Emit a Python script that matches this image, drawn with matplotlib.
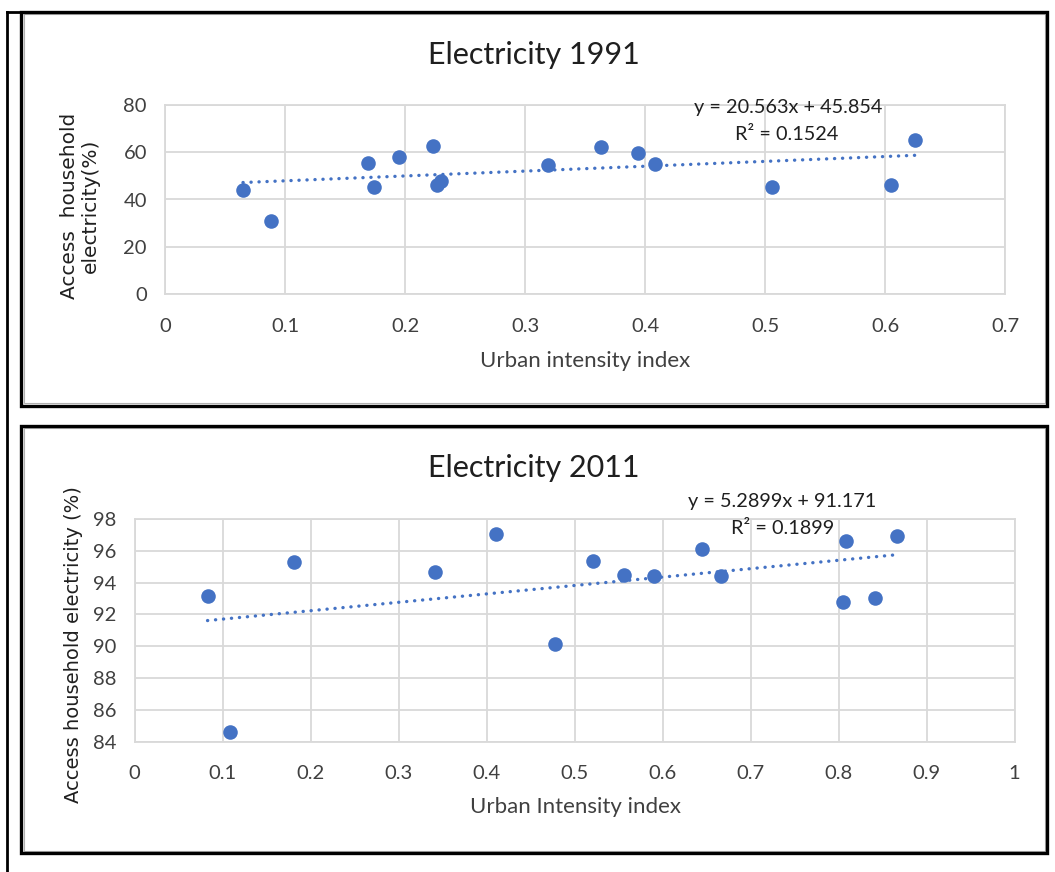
import matplotlib
matplotlib.use("Agg")
import matplotlib.pyplot as plt
import numpy as np
from matplotlib.patches import Rectangle
from matplotlib.lines import Line2D

# ---- data -------------------------------------------------------------
x1991 = [0.065, 0.088, 0.169, 0.174, 0.195, 0.223, 0.227, 0.230, 0.319,
         0.363, 0.394, 0.408, 0.506, 0.605, 0.625]
y1991 = [44.0, 30.9, 55.4, 45.3, 57.9, 62.6, 46.1, 48.0, 54.6,
         62.1, 59.6, 55.0, 45.2, 46.1, 65.0]
trend1991 = (20.563, 45.854)
r2_1991 = 0.1524

x2011 = [0.083, 0.109, 0.181, 0.342, 0.411, 0.478, 0.521, 0.556, 0.590,
         0.645, 0.667, 0.805, 0.808, 0.841, 0.867]
y2011 = [93.16, 84.6, 95.28, 94.69, 97.04, 90.12, 95.36, 94.5, 94.44,
         96.11, 94.42, 92.78, 96.64, 93.01, 96.95]
trend2011 = (5.2899, 91.171)
r2_2011 = 0.1899

xticks1991 = [0, 0.1, 0.2, 0.3, 0.4, 0.5, 0.6, 0.7]
xticklabels1991 = ["0", "0.1", "0.2", "0.3", "0.4", "0.5", "0.6", "0.7"]
yticks1991 = [0, 20, 40, 60, 80]

xticks2011 = [0, 0.1, 0.2, 0.3, 0.4, 0.5, 0.6, 0.7, 0.8, 0.9, 1.0]
xticklabels2011 = ["0", "0.1", "0.2", "0.3", "0.4", "0.5", "0.6", "0.7",
                   "0.8", "0.9", "1"]
yticks2011 = [84, 86, 88, 90, 92, 94, 96, 98]

# ---- style ------------------------------------------------------------
W, H = 1055, 872
BLUE = "#4472C4"
GRID = "#D9D9D9"
TICK = "#404040"
DARK = "#1F1F1F"
TXT = "Lato"
YLAB = "DejaVu Sans"

fig = plt.figure(figsize=(W / 100, H / 100), dpi=100)


def fx(px):
    return px / W


def fy(py):
    return 1 - py / H


def axes_px(left, top, right, bottom):
    return fig.add_axes([fx(left), fy(bottom), (right - left) / W, (bottom - top) / H])


def frame(left, top, right, bottom):
    fig.patches.append(Rectangle((fx(left + 2.5), fy(bottom - 2.5)),
                                 (right - left - 5) / W, (bottom - top - 5) / H,
                                 transform=fig.transFigure, fill=False,
                                 ec="#B0B0B0", lw=0.8, zorder=1))
    fig.patches.append(Rectangle((fx(left), fy(bottom)),
                                 (right - left) / W, (bottom - top) / H,
                                 transform=fig.transFigure, fill=False,
                                 ec="black", lw=2.4, zorder=2))


# outer page lines
fig.lines.append(Line2D([fx(7), fx(7)], [fy(12), fy(872)], transform=fig.transFigure,
                        color="black", lw=2.0))
fig.lines.append(Line2D([fx(7), fx(1047)], [fy(12), fy(12)], transform=fig.transFigure,
                        color="black", lw=2.0))
frame(21, 12, 1047, 406)
frame(21, 426, 1047, 853)


def style_axes(ax, xt, xtl, yt):
    ax.set_xticks(xt)
    ax.set_xticklabels(xtl)
    ax.set_yticks(yt)
    ax.set_xlim(xt[0], xt[-1])
    ax.set_ylim(yt[0], yt[-1])
    ax.grid(True, color=GRID, lw=1.3)
    ax.set_axisbelow(True)
    for s in ax.spines.values():
        s.set_color(GRID)
        s.set_linewidth(1.3)
    ax.tick_params(length=0, colors=TICK, labelsize=14.5, pad=17)
    ax.tick_params(axis="y", pad=13)
    for lab in ax.get_xticklabels() + ax.get_yticklabels():
        lab.set_family(TXT)


def scatter_with_trend(ax, xs, ys, coef):
    ax.scatter(xs, ys, s=110, color=BLUE, zorder=3, linewidths=0)
    xline = np.array([min(xs), max(xs)])
    ax.plot(xline, coef[0] * xline + coef[1], color=BLUE, lw=2.4,
            linestyle=(0, (0.05, 2.35)), dash_capstyle="round", zorder=4)


# ---- 1991 ---------------------------------------------------------------
ax1 = axes_px(165, 105, 1005, 294)
style_axes(ax1, xticks1991, xticklabels1991, yticks1991)
scatter_with_trend(ax1, x1991, y1991, trend1991)
fig.text(fx(534), fy(55), "Electricity 1991", ha="center", va="center",
         family=TXT, fontsize=22, color=DARK)
fig.text(fx(585), fy(361), "Urban intensity index", ha="center", va="center",
         family=TXT, fontsize=16, color=TICK)
fig.text(fx(80), fy(206), "Access  household\nelectricity(%)", ha="center", va="center",
         rotation=90, family=YLAB, fontsize=14.5, color=DARK, linespacing=1.1)
fig.text(fx(788), fy(107), f"y = {trend1991[0]}x + {trend1991[1]}", ha="center",
         va="center", family=TXT, fontsize=14.3, color=DARK)
fig.text(fx(787), fy(134), f"R² = {r2_1991}", ha="center", va="center",
         family=TXT, fontsize=14.3, color=DARK)

# ---- 2011 ---------------------------------------------------------------
ax2 = axes_px(134.5, 519, 1014.5, 741.5)
style_axes(ax2, xticks2011, xticklabels2011, yticks2011)
scatter_with_trend(ax2, x2011, y2011, trend2011)
fig.text(fx(534), fy(468), "Electricity 2011", ha="center", va="center",
         family=TXT, fontsize=22, color=DARK)
fig.text(fx(575), fy(807), "Urban Intensity index", ha="center", va="center",
         family=TXT, fontsize=16, color=TICK)
fig.text(fx(74), fy(645), "Access household electricity (%)", ha="center", va="center",
         rotation=90, family=YLAB, fontsize=14, color=DARK)
fig.text(fx(782), fy(501), f"y = {trend2011[0]}x + {trend2011[1]}", ha="center",
         va="center", family=TXT, fontsize=14.3, color=DARK)
fig.text(fx(783), fy(528), f"R² = {r2_2011}", ha="center", va="center",
         family=TXT, fontsize=14.3, color=DARK)

fig.savefig("out.png", dpi=100, facecolor="white")
